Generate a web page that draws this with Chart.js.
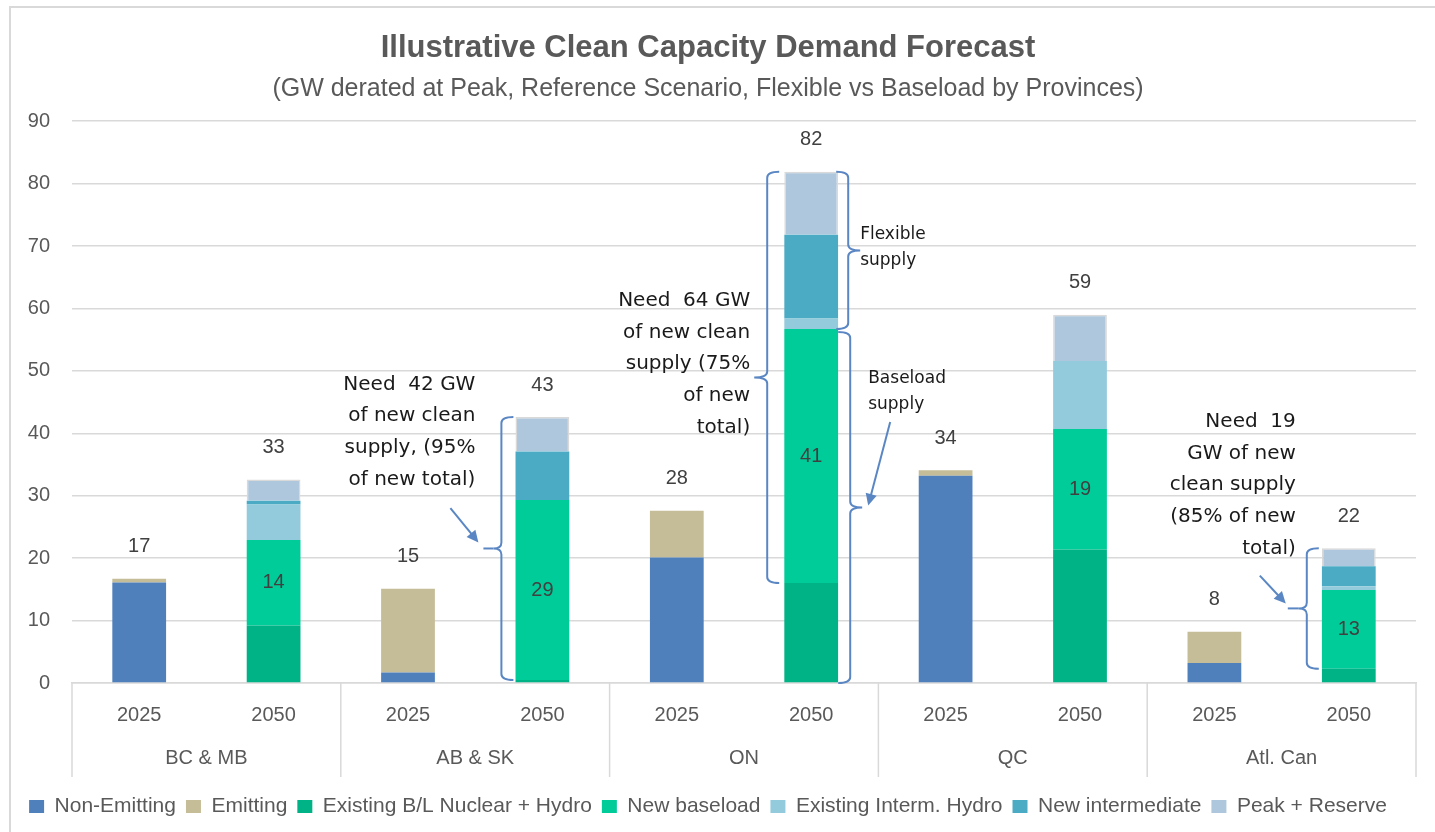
<!DOCTYPE html>
<html>
<head>
<meta charset="utf-8">
<title>Illustrative Clean Capacity Demand Forecast</title>
<script src="https://cdn.jsdelivr.net/npm/chart.js@4.4.1/dist/chart.umd.min.js"></script>
<style>
  html, body { margin: 0; padding: 0; background: #fff; }
  #wrap { width: 1435px; height: 832px; }
</style>
</head>
<body>
<div id="wrap"><canvas id="chart" width="1435" height="832"></canvas></div>
<script>
// categories
const provinces = ['BC & MB', 'AB & SK', 'ON', 'QC', 'Atl. Can'];
const years = ['2025', '2050', '2025', '2050', '2025', '2050', '2025', '2050', '2025', '2050'];

// GW derated at peak
const nonEmitting     = [16.1, null, 1.7, null, 20.1, null, 33.2, null, 3.2, null];
const emitting        = [0.6, null, 13.4, null, 7.5, null, 0.9, null, 5.0, null];
const existingBL      = [null, 9.2, null, 0.5, null, 16.0, null, 21.4, null, 2.3];
const newBaseload     = [null, 13.7, null, 28.8, null, 40.7, null, 19.3, null, 12.6];
const existingInterm  = [null, 5.7, null, null, null, 1.7, null, 10.9, null, 0.6];
const newIntermediate = [null, 0.6, null, 7.8, null, 13.4, null, null, null, 3.2];
const peakReserve     = [null, 3.4, null, 5.5, null, 10.1, null, 7.4, null, 2.9];

const axisGrey = '#595959';
const gridGrey = '#d9d9d9';
const noteBlue = '#5a87c4';

function total(i) {
  return [nonEmitting, emitting, existingBL, newBaseload, existingInterm, newIntermediate, peakReserve]
    .reduce((s, arr) => s + (arr[i] || 0), 0);
}

// light frame round the chart
const framePlugin = {
  id: 'frame',
  beforeDraw(chart) {
    const ctx = chart.ctx;
    ctx.save();
    ctx.strokeStyle = gridGrey;
    ctx.lineWidth = 2;
    ctx.beginPath();
    ctx.moveTo(10, 832);
    ctx.lineTo(10, 7);
    ctx.lineTo(1435, 7);
    ctx.stroke();
    ctx.restore();
  }
};

// province row + separators below the years
const provincePlugin = {
  id: 'provinces',
  afterDraw(chart) {
    const ctx = chart.ctx;
    const area = chart.chartArea;
    const x = chart.scales.x;
    const step = (area.right - area.left) / provinces.length;
    ctx.save();
    ctx.strokeStyle = gridGrey;
    ctx.lineWidth = 1.5;
    for (let i = 0; i <= provinces.length; i++) {
      const px = area.left + i * step;
      ctx.beginPath();
      ctx.moveTo(px, area.bottom);
      ctx.lineTo(px, area.bottom + 94);
      ctx.stroke();
    }
    ctx.fillStyle = axisGrey;
    ctx.font = '20px "Liberation Sans", Arial, sans-serif';
    ctx.textAlign = 'center';
    ctx.textBaseline = 'middle';
    provinces.forEach((p, i) => {
      const cx = (x.getPixelForValue(i * 2) + x.getPixelForValue(i * 2 + 1)) / 2;
      ctx.fillText(p, cx, area.bottom + 75);
    });
    ctx.restore();
  }
};

// totals above bars and new baseload inside bars
const labelPlugin = {
  id: 'valueLabels',
  afterDatasetsDraw(chart) {
    const ctx = chart.ctx;
    const x = chart.scales.x;
    const y = chart.scales.y;
    ctx.save();
    ctx.fillStyle = '#404040';
    ctx.font = '20px "Liberation Sans", Arial, sans-serif';
    ctx.textAlign = 'center';
    ctx.textBaseline = 'middle';
    years.forEach((yr, i) => {
      const t = total(i);
      ctx.fillText(Math.round(t), x.getPixelForValue(i), y.getPixelForValue(t) - 32);
    });
    const meta = chart.getDatasetMeta(3);
    meta.data.forEach((bar, i) => {
      if (newBaseload[i] == null) return;
      ctx.fillText(Math.round(newBaseload[i]), bar.x, (bar.y + bar.base) / 2);
    });
    ctx.restore();
  }
};

function drawBrace(ctx, x, yTop, yBot, side, nub) {
  // side -1: nub points left, ends turn right; side 1: the opposite
  const ym = (yTop + yBot) / 2;
  const e = -side * 12;
  const r = 6;
  ctx.beginPath();
  ctx.moveTo(x + e, yTop);
  ctx.quadraticCurveTo(x, yTop, x, yTop + r);
  ctx.lineTo(x, ym - r);
  ctx.quadraticCurveTo(x, ym, x + side * nub, ym);
  ctx.moveTo(x + side * nub, ym);
  ctx.quadraticCurveTo(x, ym, x, ym + r);
  ctx.lineTo(x, yBot - r);
  ctx.quadraticCurveTo(x, yBot, x + e, yBot);
  ctx.stroke();
  return ym;
}

function drawArrow(ctx, x1, y1, x2, y2) {
  const a = Math.atan2(y2 - y1, x2 - x1);
  const h = 13;
  ctx.beginPath();
  ctx.moveTo(x1, y1);
  ctx.lineTo(x2 - Math.cos(a) * h * 0.6, y2 - Math.sin(a) * h * 0.6);
  ctx.stroke();
  ctx.beginPath();
  ctx.moveTo(x2, y2);
  ctx.lineTo(x2 - h * Math.cos(a - 0.45), y2 - h * Math.sin(a - 0.45));
  ctx.lineTo(x2 - h * Math.cos(a + 0.45), y2 - h * Math.sin(a + 0.45));
  ctx.closePath();
  ctx.fill();
}

function drawLines(ctx, lines, x, yStart, gap, align) {
  ctx.textAlign = align;
  lines.forEach((l, k) => ctx.fillText(l, x, yStart + k * gap));
}

// callouts: braces, arrows and notes
const notesPlugin = {
  id: 'notes',
  afterDraw(chart) {
    const ctx = chart.ctx;
    const x = chart.scales.x;
    const y = chart.scales.y;
    const half = 27;
    ctx.save();
    ctx.strokeStyle = noteBlue;
    ctx.fillStyle = noteBlue;
    ctx.lineWidth = 2;

    // AB & SK 2050
    let cx = x.getPixelForValue(3);
    let sx = cx - half - 14;
    let ym = drawBrace(ctx, sx, y.getPixelForValue(total(3)), y.getPixelForValue(existingBL[3]), -1, 8);
    ctx.beginPath(); ctx.moveTo(sx - 8, ym); ctx.lineTo(sx - 18, ym); ctx.stroke();
    drawArrow(ctx, cx - 92, y.getPixelForValue(28.0), cx - 64, ym - 6);

    // ON 2050
    cx = x.getPixelForValue(5);
    const base5 = existingBL[5] + newBaseload[5];
    sx = cx - half - 17;
    drawBrace(ctx, sx, y.getPixelForValue(total(5)), y.getPixelForValue(existingBL[5]), -1, 13);
    sx = cx + half + 10;
    drawBrace(ctx, sx, y.getPixelForValue(total(5)), y.getPixelForValue(base5), 1, 12);
    ym = drawBrace(ctx, sx + 2, y.getPixelForValue(base5) + 3, y.getPixelForValue(0), 1, 12);
    drawArrow(ctx, cx + 79, y.getPixelForValue(41.8), cx + 57, ym - 2);

    // Atl. Can 2050
    cx = x.getPixelForValue(9);
    sx = cx - half - 15;
    ym = drawBrace(ctx, sx, y.getPixelForValue(total(9)), y.getPixelForValue(existingBL[9]), -1, 8);
    ctx.beginPath(); ctx.moveTo(sx - 8, ym); ctx.lineTo(sx - 19, ym); ctx.stroke();
    drawArrow(ctx, cx - 89, y.getPixelForValue(17.2), cx - 63, ym - 5);

    ctx.fillStyle = '#1a1a1a';
    ctx.textBaseline = 'middle';
    ctx.font = '20px "DejaVu Sans", Verdana, sans-serif';
    drawLines(ctx, ['Need  42 GW', 'of new clean', 'supply, (95%', 'of new total)'],
      x.getPixelForValue(3) - 67, y.getPixelForValue(47.8), 31.6, 'right');
    drawLines(ctx, ['Need  64 GW', 'of new clean', 'supply (75%', 'of new', 'total)'],
      x.getPixelForValue(5) - 61, y.getPixelForValue(61.2), 31.6, 'right');
    drawLines(ctx, ['Need  19', 'GW of new', 'clean supply', '(85% of new', 'total)'],
      x.getPixelForValue(9) - 53, y.getPixelForValue(41.8), 31.6, 'right');
    ctx.font = '17px "DejaVu Sans", Verdana, sans-serif';
    drawLines(ctx, ['Flexible', 'supply'], x.getPixelForValue(5) + 49, y.getPixelForValue(71.8), 26, 'left');
    drawLines(ctx, ['Baseload', 'supply'], x.getPixelForValue(5) + 57, y.getPixelForValue(48.7), 26, 'left');
    ctx.restore();
  }
};

function makeSet(label, data, color, extra) {
  return Object.assign({ label, data, backgroundColor: color, borderWidth: 0, stack: 's' }, extra || {});
}

new Chart(document.getElementById('chart'), {
  type: 'bar',
  data: {
    labels: years,
    datasets: [
      makeSet('Non-Emitting', nonEmitting, '#4f80bc'),
      makeSet('Emitting', emitting, '#c4bd97'),
      makeSet('Existing B/L Nuclear + Hydro', existingBL, '#00b386'),
      makeSet('New baseload', newBaseload, '#00cc99'),
      makeSet('Existing Interm. Hydro', existingInterm, '#94cbdc'),
      makeSet('New intermediate', newIntermediate, '#4babc5'),
      makeSet('Peak + Reserve', peakReserve, '#aec7dd', { borderColor: gridGrey, borderWidth: 1.5 })
    ]
  },
  options: {
    responsive: false,
    animation: false,
    devicePixelRatio: 1,
    barPercentage: 0.4,
    categoryPercentage: 1,
    layout: { padding: { left: 0, right: 19, top: 0, bottom: 5 } },
    plugins: {
      title: {
        display: true,
        text: 'Illustrative Clean Capacity Demand Forecast',
        color: axisGrey,
        font: { family: '"Liberation Sans", Arial, sans-serif', size: 31, weight: 'bold' },
        padding: { top: 30, bottom: 7 }
      },
      subtitle: {
        display: true,
        text: '(GW derated at Peak, Reference Scenario, Flexible vs Baseload by Provinces)',
        color: axisGrey,
        font: { family: '"Liberation Sans", Arial, sans-serif', size: 25 },
        padding: { top: 0, bottom: 17 }
      },
      legend: {
        position: 'bottom',
        labels: {
          color: axisGrey,
          font: { family: '"Liberation Sans", Arial, sans-serif', size: 21 },
          boxWidth: 15,
          boxHeight: 13,
          padding: 10,
          generateLabels: chart => Chart.defaults.plugins.legend.labels.generateLabels(chart)
            .map(l => Object.assign(l, { lineWidth: 0 }))
        }
      },
      tooltip: { enabled: false }
    },
    scales: {
      x: {
        stacked: true,
        grid: { display: false },
        border: { display: true, color: gridGrey, width: 1.5 },
        ticks: {
          color: axisGrey,
          font: { family: '"Liberation Sans", Arial, sans-serif', size: 20 },
          padding: 12,
          maxRotation: 0
        },
        afterFit: scale => { scale.height = 103; }
      },
      y: {
        stacked: true,
        min: 0,
        max: 90,
        grid: { color: gridGrey, lineWidth: 1.5, drawTicks: false },
        border: { display: false },
        ticks: {
          stepSize: 10,
          color: axisGrey,
          font: { family: '"Liberation Sans", Arial, sans-serif', size: 20 },
          padding: 22
        },
        afterFit: scale => { scale.width = 72; }
      }
    }
  },
  plugins: [framePlugin, provincePlugin, labelPlugin, notesPlugin]
});
</script>
</body>
</html>
